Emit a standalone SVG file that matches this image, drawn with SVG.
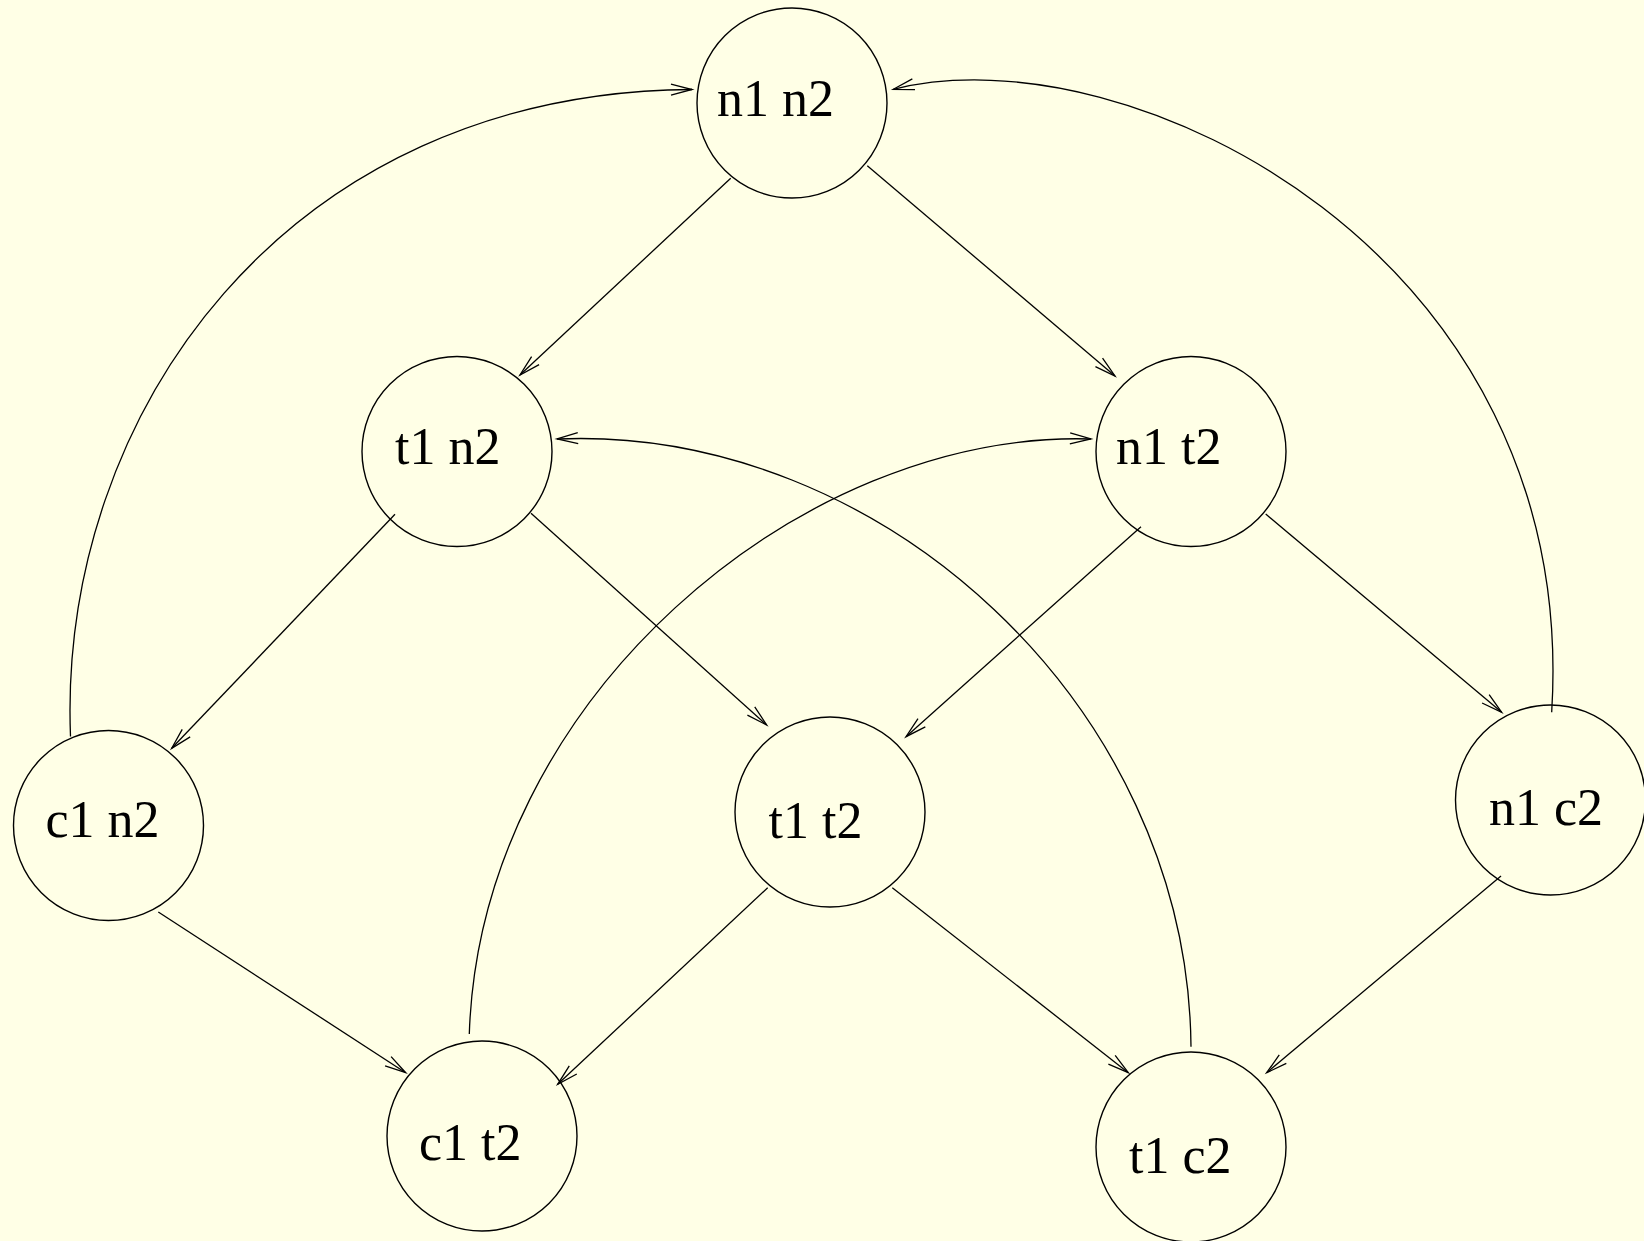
<svg xmlns="http://www.w3.org/2000/svg" width="1644" height="1241" viewBox="0 0 1644 1241">
<style>
.node circle{fill:none;stroke:#000;stroke-width:1.4}
.node text{font-family:"Liberation Serif","Times New Roman",serif;font-size:52px;fill:#000}
.edges path{fill:none;stroke:#000;stroke-width:1.3;marker-end:url(#arr)}
</style>
<defs>
<marker id="arr" markerUnits="userSpaceOnUse" markerWidth="30" markerHeight="20" viewBox="-24 -10 30 20" refX="0" refY="0" orient="auto">
<path d="M-21,-5.5 L0,0 L-21,5.5" fill="none" stroke="#000" stroke-width="1.3"/>
</marker>
</defs>
<rect width="1644" height="1241" fill="#FFFFE6"/>
<g class="edges" id="connectors">
<path d="M730.7,178.3 L520,375"/>
<path d="M867.3,165.7 L1115,376"/>
<path d="M395,514.3 L171.7,748.3"/>
<path d="M531,513.3 L766.7,725"/>
<path d="M1141,526.7 L906,736.7"/>
<path d="M1265.7,514 L1501.7,712.3"/>
<path d="M158.3,912 L405.7,1072.7"/>
<path d="M767.7,887.7 L557.7,1084.3"/>
<path d="M892.3,887.7 L1128.3,1072.7"/>
<path d="M1501,876 L1266.7,1072.7"/>
<path d="M70.5,736.5 C58,415 285,92 692,89.5"/>
<path d="M1551.7,712.3 C1580,255 1130,30 893.3,89.3"/>
<path d="M1191,1046.7 C1188,705 880,425 557,439"/>
<path d="M469.3,1034 C480,700 800,430 1091,439"/>
</g>
<g class="node" id="n1n2"><circle cx="792" cy="103" r="95"/><text x="717" y="116">n1 n2</text></g>
<g class="node" id="t1n2"><circle cx="457" cy="451.5" r="95"/><text x="395" y="464">t1 n2</text></g>
<g class="node" id="n1t2"><circle cx="1191" cy="451.5" r="95"/><text x="1116" y="464">n1 t2</text></g>
<g class="node" id="c1n2"><circle cx="108.5" cy="825.5" r="95"/><text x="45.5" y="837">c1 n2</text></g>
<g class="node" id="t1t2"><circle cx="830" cy="812" r="95"/><text x="768.5" y="838">t1 t2</text></g>
<g class="node" id="n1c2"><circle cx="1550.5" cy="800" r="95"/><text x="1489" y="825">n1 c2</text></g>
<g class="node" id="c1t2"><circle cx="482" cy="1136" r="95"/><text x="419" y="1160">c1 t2</text></g>
<g class="node" id="t1c2"><circle cx="1191" cy="1147" r="95"/><text x="1129" y="1173">t1 c2</text></g>
</svg>
